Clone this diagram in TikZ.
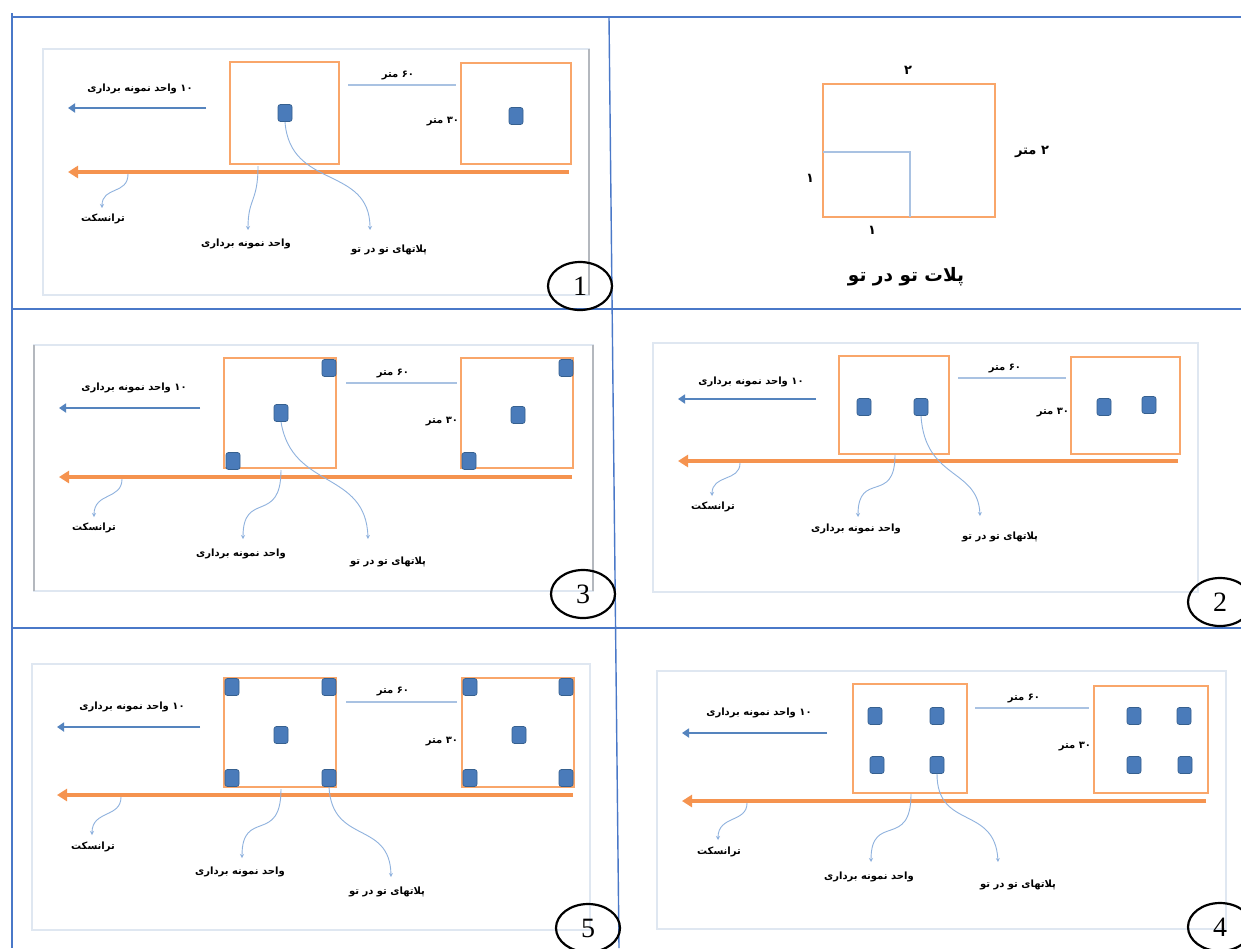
\documentclass[tikz,border=0pt]{standalone}
\usepackage{fontspec}
\usetikzlibrary{arrows.meta,shapes.geometric}
\TeXXeTstate=1
\newfontfamily\fa[Script=Arabic]{DejaVu Sans}
\newfontfamily\numfont{Liberation Serif}
\definecolor{gridblue}{HTML}{4A78C8}
\definecolor{frmcol}{HTML}{DFE7F1}
\definecolor{frmgray}{HTML}{B4B8BE}
\definecolor{plotorange}{HTML}{F9A66A}
\definecolor{transorange}{HTML}{F5934F}
\definecolor{arrblue}{HTML}{5584BE}
\definecolor{sqfill}{HTML}{4A7BBA}
\definecolor{sqdraw}{HTML}{36608F}
\definecolor{connblue}{HTML}{8FB2DE}
\definecolor{dimblue}{HTML}{A9C2E2}
\tikzset{
 grid/.style={draw=gridblue, line width=1.4pt},
 frm/.style={draw=frmcol, line width=1.5pt},
 frmedge/.style={draw=frmgray, line width=1.5pt},
 plotbox/.style={draw=plotorange, line width=2.2pt},
 sq/.style={rectangle, rounded corners=2.5pt, fill=sqfill, draw=sqdraw, line width=0.7pt, minimum width=14pt, minimum height=17pt, inner sep=0pt},
 unitarr/.style={draw=arrblue, line width=2.8pt, -{Triangle[length=7pt,width=9pt]}},
 trans/.style={draw=transorange, line width=3.6pt, -{Triangle[length=10pt,width=12pt]}},
 conn/.style={draw=connblue, line width=0.9pt, -{Stealth[length=4pt,width=4pt]}},
 dimline/.style={draw=dimblue, line width=1.3pt},
 lbl/.style={font=\fa\bfseries\fontsize{10}{11}\selectfont, inner sep=0pt, text=black},
 dimlbl/.style={font=\fa\bfseries\fontsize{13}{14}\selectfont, inner sep=0pt, text=black},
 title/.style={font=\fa\bfseries\fontsize{18.5}{20}\selectfont, inner sep=0pt},
 num/.style={ellipse, draw=black, line width=2.2pt, minimum width=64pt, minimum height=48pt, inner sep=0pt, font=\numfont\fontsize{28}{28}\selectfont}
}
\begin{document}
\begin{tikzpicture}[x=1pt,y=-1pt]
\fill[white] (0,0) rectangle (1241,948);
\useasboundingbox (0,0) rectangle (1241,948);
% ---------------- grid ----------------
\coordinate (gTL) at (12,17); \coordinate (gTR) at (1241,17);
\coordinate (gLT) at (12,13); \coordinate (gLB) at (12,948);
\coordinate (gMT) at (609,17); \coordinate (gMB) at (619,948);
\coordinate (gR1L) at (12,309); \coordinate (gR1R) at (1241,309);
\coordinate (gR2L) at (12,628); \coordinate (gR2R) at (1241,628);
\draw[grid] (gTL) -- (gTR);
\draw[grid] (gLT) -- (gLB);
\draw[grid] (gMT) -- (gMB);
\draw[grid] (gR1L) -- (gR1R);
\draw[grid] (gR2L) -- (gR2R);

% ---------------- panel 1 ----------------
\draw[frm] (43,49) rectangle (589,295);
\draw[frmedge] (589,49) -- (589,295);
\draw[plotbox] (230,62) rectangle (339,164);
\draw[plotbox] (461,63) rectangle (571,164);
\node[sq] (p1a) at (285,113) {};
\node[sq] (p1b) at (516,116) {};
\node[lbl] (p1l60) at (398,75) {\beginR ۶۰ متر\endR};
\coordinate (p1d0) at (348,85); \coordinate (p1d1) at (456,85);
\draw[dimline] (p1d0) -- (p1d1);
\node[lbl] (p1l30) at (443,122) {\beginR ۳۰ متر\endR};
\node[lbl] (p1l10) at (140,89) {\beginR ۱۰ واحد نمونه برداری\endR};
\coordinate (p1u0) at (206,108); \coordinate (p1u1) at (68,108);
\draw[unitarr] (p1u0) -- (p1u1);
\coordinate (p1t0) at (569,172); \coordinate (p1t1) at (68,172);
\draw[trans] (p1t0) -- (p1t1);
\node[lbl] (p1lt) at (103,219) {\beginR ترانسکت\endR};
\node[lbl] (p1lu) at (246,244) {\beginR واحد نمونه برداری\endR};
\node[lbl] (p1lp) at (389,250) {\beginR پلاتهای تو در تو\endR};
\coordinate (p1ts) at (128,174); \coordinate (p1te) at (102,208);
\coordinate (p1us) at (258,166); \coordinate (p1ue) at (248,230);
\coordinate (p1pe) at (370,230);
\draw[conn] (p1ts) .. controls (128,195) and (102,186) .. (p1te);
\draw[conn] (p1us) .. controls (258,202) and (248,198) .. (p1ue);
\draw[conn] (p1a.south) .. controls (290,190) and (370,165) .. (p1pe);
\node[num] (c1) at (580,286) {1};

% ---------------- panel top right ----------------
\draw[plotbox] (823,84) rectangle (995,217);
\coordinate (trA) at (823,152); \coordinate (trB) at (910,152); \coordinate (trC) at (910,217);
\draw[dimline] (trA) -- (trB) -- (trC);
\node[dimlbl] (tr2) at (908,70) {\beginR ۲\endR};
\node[dimlbl] (tr2m) at (1032,152) {\beginR ۲ متر\endR};
\node[dimlbl] (tr1a) at (810,178) {\beginR ۱\endR};
\node[dimlbl] (tr1b) at (872,230) {\beginR ۱\endR};
\node[title] (trt) at (906,277) {\beginR پلات تو در تو\endR};

% ---------------- panel 3 ----------------
\draw[frm] (34,345) rectangle (593,591);
\draw[frmedge] (34,345) -- (34,591);
\draw[frmedge] (593,345) -- (593,591);
\draw[plotbox] (224,358) rectangle (336,468);
\draw[plotbox] (461,358) rectangle (573,468);
\node[sq] (p3a1) at (329,368) {};
\node[sq] (p3a2) at (281,413) {};
\node[sq] (p3a3) at (233,461) {};
\node[sq] (p3b1) at (566,368) {};
\node[sq] (p3b2) at (518,415) {};
\node[sq] (p3b3) at (469,461) {};
\node[lbl] (p3l60) at (393,373) {\beginR ۶۰ متر\endR};
\coordinate (p3d0) at (346,383); \coordinate (p3d1) at (457,383);
\draw[dimline] (p3d0) -- (p3d1);
\node[lbl] (p3l30) at (442,422) {\beginR ۳۰ متر\endR};
\node[lbl] (p3l10) at (134,388) {\beginR ۱۰ واحد نمونه برداری\endR};
\coordinate (p3u0) at (200,408); \coordinate (p3u1) at (59,408);
\draw[unitarr] (p3u0) -- (p3u1);
\coordinate (p3t0) at (572,477); \coordinate (p3t1) at (59,477);
\draw[trans] (p3t0) -- (p3t1);
\node[lbl] (p3lt) at (94,528) {\beginR ترانسکت\endR};
\node[lbl] (p3lu) at (241,554) {\beginR واحد نمونه برداری\endR};
\node[lbl] (p3lp) at (388,562) {\beginR پلاتهای تو در تو\endR};
\coordinate (p3ts) at (122,479); \coordinate (p3te) at (94,517);
\coordinate (p3us) at (281,470); \coordinate (p3ue) at (243,539);
\coordinate (p3pe) at (368,539);
\draw[conn] (p3ts) .. controls (122,500) and (94,492) .. (p3te);
\draw[conn] (p3us) .. controls (281,525) and (243,490) .. (p3ue);
\draw[conn] (p3a2.south) .. controls (292,490) and (366,470) .. (p3pe);
\node[num] (c3) at (583,594) {3};

% ---------------- panel 2 ----------------
\draw[frm] (653,343) rectangle (1198,592);
\draw[plotbox] (839,356) rectangle (949,454);
\draw[plotbox] (1071,357) rectangle (1180,454);
\node[sq] (p2a1) at (864,407) {};
\node[sq] (p2a2) at (921,407) {};
\node[sq] (p2b1) at (1104,407) {};
\node[sq] (p2b2) at (1149,405) {};
\node[lbl] (p2l60) at (1005,368) {\beginR ۶۰ متر\endR};
\coordinate (p2d0) at (958,378); \coordinate (p2d1) at (1066,378);
\draw[dimline] (p2d0) -- (p2d1);
\node[lbl] (p2l30) at (1053,413) {\beginR ۳۰ متر\endR};
\node[lbl] (p2l10) at (751,382) {\beginR ۱۰ واحد نمونه برداری\endR};
\coordinate (p2u0) at (816,399); \coordinate (p2u1) at (678,399);
\draw[unitarr] (p2u0) -- (p2u1);
\coordinate (p2t0) at (1178,461); \coordinate (p2t1) at (678,461);
\draw[trans] (p2t0) -- (p2t1);
\node[lbl] (p2lt) at (713,507) {\beginR ترانسکت\endR};
\node[lbl] (p2lu) at (856,529) {\beginR واحد نمونه برداری\endR};
\node[lbl] (p2lp) at (1000,537) {\beginR پلاتهای تو در تو\endR};
\coordinate (p2ts) at (740,463); \coordinate (p2te) at (712,496);
\coordinate (p2us) at (895,455); \coordinate (p2ue) at (858,517);
\coordinate (p2pe) at (980,516);
\draw[conn] (p2ts) .. controls (740,482) and (712,474) .. (p2te);
\draw[conn] (p2us) .. controls (895,505) and (858,470) .. (p2ue);
\draw[conn] (p2a2.south) .. controls (925,480) and (978,468) .. (p2pe);
\node[num] (c2) at (1220,602) {2};

% ---------------- panel 5 ----------------
\draw[frm] (32,664) rectangle (590,930);
\draw[plotbox] (224,678) rectangle (336,787);
\draw[plotbox] (462,678) rectangle (574,787);
\node[sq] (p5a1) at (232,687) {};
\node[sq] (p5a2) at (329,687) {};
\node[sq] (p5a3) at (281,735) {};
\node[sq] (p5a4) at (232,778) {};
\node[sq] (p5a5) at (329,778) {};
\node[sq] (p5b1) at (470,687) {};
\node[sq] (p5b2) at (566,687) {};
\node[sq] (p5b3) at (519,735) {};
\node[sq] (p5b4) at (470,778) {};
\node[sq] (p5b5) at (566,778) {};
\node[lbl] (p5l60) at (393,691) {\beginR ۶۰ متر\endR};
\coordinate (p5d0) at (346,702); \coordinate (p5d1) at (457,702);
\draw[dimline] (p5d0) -- (p5d1);
\node[lbl] (p5l30) at (442,742) {\beginR ۳۰ متر\endR};
\node[lbl] (p5l10) at (132,707) {\beginR ۱۰ واحد نمونه برداری\endR};
\coordinate (p5u0) at (200,727); \coordinate (p5u1) at (57,727);
\draw[unitarr] (p5u0) -- (p5u1);
\coordinate (p5t0) at (573,795); \coordinate (p5t1) at (57,795);
\draw[trans] (p5t0) -- (p5t1);
\node[lbl] (p5lt) at (93,847) {\beginR ترانسکت\endR};
\node[lbl] (p5lu) at (240,872) {\beginR واحد نمونه برداری\endR};
\node[lbl] (p5lp) at (387,892) {\beginR پلاتهای تو در تو\endR};
\coordinate (p5ts) at (121,797); \coordinate (p5te) at (92,835);
\coordinate (p5us) at (281,789); \coordinate (p5ue) at (242,858);
\coordinate (p5pe) at (391,877);
\draw[conn] (p5ts) .. controls (121,818) and (92,810) .. (p5te);
\draw[conn] (p5us) .. controls (281,845) and (242,808) .. (p5ue);
\draw[conn] (p5a5.south) .. controls (332,845) and (390,820) .. (p5pe);
\node[num] (c5) at (588,928) {5};

% ---------------- panel 4 ----------------
\draw[frm] (657,671) rectangle (1226,929);
\draw[plotbox] (853,684) rectangle (967,793);
\draw[plotbox] (1094,686) rectangle (1208,793);
\node[sq] (p4a1) at (875,716) {};
\node[sq] (p4a2) at (937,716) {};
\node[sq] (p4a3) at (877,765) {};
\node[sq] (p4a4) at (937,765) {};
\node[sq] (p4b1) at (1134,716) {};
\node[sq] (p4b2) at (1184,716) {};
\node[sq] (p4b3) at (1134,765) {};
\node[sq] (p4b4) at (1185,765) {};
\node[lbl] (p4l60) at (1024,698) {\beginR ۶۰ متر\endR};
\coordinate (p4d0) at (975,708); \coordinate (p4d1) at (1089,708);
\draw[dimline] (p4d0) -- (p4d1);
\node[lbl] (p4l30) at (1075,747) {\beginR ۳۰ متر\endR};
\node[lbl] (p4l10) at (759,713) {\beginR ۱۰ واحد نمونه برداری\endR};
\coordinate (p4u0) at (827,733); \coordinate (p4u1) at (682,733);
\draw[unitarr] (p4u0) -- (p4u1);
\coordinate (p4t0) at (1206,801); \coordinate (p4t1) at (682,801);
\draw[trans] (p4t0) -- (p4t1);
\node[lbl] (p4lt) at (719,852) {\beginR ترانسکت\endR};
\node[lbl] (p4lu) at (869,877) {\beginR واحد نمونه برداری\endR};
\node[lbl] (p4lp) at (1018,885) {\beginR پلاتهای تو در تو\endR};
\coordinate (p4ts) at (747,803); \coordinate (p4te) at (718,840);
\coordinate (p4us) at (911,794); \coordinate (p4ue) at (871,862);
\coordinate (p4pe) at (998,862);
\draw[conn] (p4ts) .. controls (747,823) and (718,815) .. (p4te);
\draw[conn] (p4us) .. controls (911,850) and (871,812) .. (p4ue);
\draw[conn] (p4a4.south) .. controls (937,830) and (995,805) .. (p4pe);
\node[num] (c4) at (1220,927) {4};
\end{tikzpicture}
\end{document}
